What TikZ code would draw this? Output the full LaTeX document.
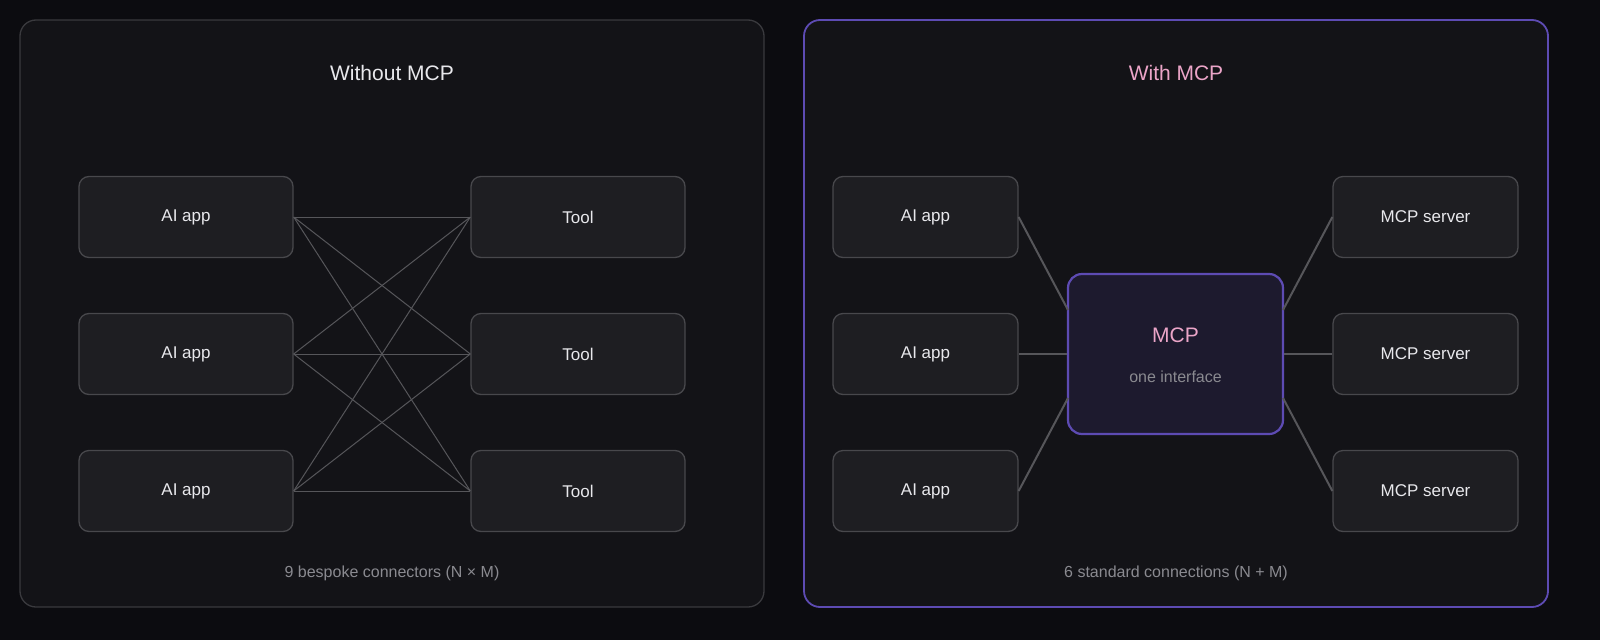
\documentclass[tikz,border=0pt]{standalone}
\usepackage{fontspec}
\setmainfont{Liberation Sans}
\begin{document}
\definecolor{bg}{HTML}{0C0C10}
\definecolor{panel}{HTML}{131317}
\definecolor{pborder}{HTML}{3A3A3E}
\definecolor{purp}{HTML}{5D4BB3}
\definecolor{boxf}{HTML}{1E1E22}
\definecolor{boxb}{HTML}{48484C}
\definecolor{txt}{HTML}{E8E8EC}
\definecolor{grey}{HTML}{8A8A90}
\definecolor{pink}{HTML}{EBA5C8}
\definecolor{mcpf}{HTML}{1D1A2E}
\definecolor{line}{HTML}{56565A}
\begin{tikzpicture}[x=1pt,y=-1pt,
  box/.style={draw=boxb,fill=boxf,rounded corners=10pt,line width=1.3pt,inner sep=0pt,text=txt,font=\fontsize{17}{20}\selectfont},
  ai/.style={box,minimum width=214pt,minimum height=81pt},
  srv/.style={box,minimum width=185pt,minimum height=81pt},
  conn/.style={draw=line,line width=1pt},
  conn2/.style={draw=line,line width=2pt}]
\useasboundingbox (0,0) rectangle (1600,640);
\fill[bg] (0,0) rectangle (1600,640);
\draw[draw=pborder,fill=panel,rounded corners=16pt,line width=1.3pt] (20,20) rectangle (764,607);
\draw[draw=purp,fill=panel,rounded corners=16pt,line width=1.8pt] (804,20) rectangle (1548,607);
\node[text=txt,font=\fontsize{21}{24}\selectfont] (h1) at (392,73) {Without MCP};
\node[text=pink,font=\fontsize{21}{24}\selectfont] (h2) at (1176,73) {With MCP};
\node[text=grey,font=\fontsize{16}{20}\selectfont] (b1) at (392,573) {9 bespoke connectors (N × M)};
\node[text=grey,font=\fontsize{16}{20}\selectfont] (b2) at (1176,573) {6 standard connections (N + M)};
\foreach \i/\y in {1/217,2/354,3/491}{
  \node[ai] (a\i) at (186,\y) {AI app};
  \node[ai] (t\i) at (578,\y) {Tool};
  \node[srv] (ra\i) at (925.5,\y) {AI app};
  \node[srv] (s\i) at (1425.5,\y) {MCP server};
}
\foreach \i in {1,2,3}{\foreach \j in {1,2,3}{\draw[conn] (a\i.east) -- (t\j.west);}}
\node[draw=purp,fill=mcpf,rounded corners=14pt,line width=2.2pt,minimum width=215pt,minimum height=160pt] (m) at (1175.5,354) {};
\node[text=pink,font=\fontsize{21}{24}\selectfont] (mt) at (1175.5,335) {MCP};
\node[text=grey,font=\fontsize{16}{20}\selectfont] (ms) at (1175.5,377) {one interface};
\coordinate (ml1) at (1068,310); \coordinate (ml3) at (1068,398);
\coordinate (mr1) at (1283,310); \coordinate (mr3) at (1283,398);
\draw[conn2] (ra1.east) -- (ml1);
\draw[conn2] (ra2.east) -- (m.west);
\draw[conn2] (ra3.east) -- (ml3);
\draw[conn2] (s1.west) -- (mr1);
\draw[conn2] (s2.west) -- (m.east);
\draw[conn2] (s3.west) -- (mr3);
\end{tikzpicture}
\end{document}
